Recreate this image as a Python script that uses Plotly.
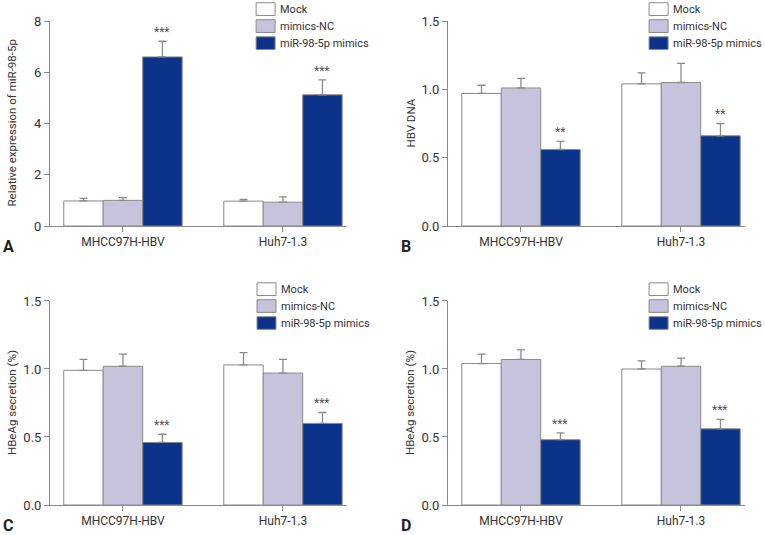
import plotly.graph_objects as go
from plotly.subplots import make_subplots

cells = ["MHCC97H-HBV", "Huh7-1.3"]
groups = ["Mock", "mimics-NC", "miR-98-5p mimics"]
colors = ["#ffffff", "#c6c4dd", "#0b338a"]

# panel A: relative expression of miR-98-5p
a_vals = [[0.98, 0.97], [1.00, 0.93], [6.60, 5.12]]
a_err = [[0.10, 0.07], [0.11, 0.21], [0.61, 0.58]]
a_stars = ["***", "***"]

# panel B: HBV DNA
b_vals = [[0.97, 1.04], [1.01, 1.05], [0.56, 0.66]]
b_err = [[0.06, 0.08], [0.07, 0.14], [0.06, 0.09]]
b_stars = ["**", "**"]

# panel C: HBeAg secretion
c_vals = [[0.99, 1.03], [1.02, 0.97], [0.46, 0.60]]
c_err = [[0.08, 0.09], [0.09, 0.10], [0.06, 0.08]]
c_stars = ["***", "***"]

# panel D: HBeAg secretion
d_vals = [[1.04, 1.00], [1.07, 1.02], [0.48, 0.56]]
d_err = [[0.07, 0.06], [0.07, 0.06], [0.05, 0.07]]
d_stars = ["***", "***"]

panels = [
    dict(vals=a_vals, err=a_err, stars=a_stars, title="Relative expression of miR-98-5p",
         rng=[0, 8], dtick=2, fmt="d", letter="A", legx=0.694),
    dict(vals=b_vals, err=b_err, stars=b_stars, title="HBV DNA",
         rng=[0, 1.5], dtick=0.5, fmt=".1f", letter="B", legx=0.677),
    dict(vals=c_vals, err=c_err, stars=c_stars, title="HBeAg secretion (%)",
         rng=[0, 1.5], dtick=0.5, fmt=".1f", letter="C", legx=0.697),
    dict(vals=d_vals, err=d_err, stars=d_stars, title="HBeAg secretion (%)",
         rng=[0, 1.5], dtick=0.5, fmt=".1f", letter="D", legx=0.677),
]

FONT = "Roboto, Arial"
GREY = "#8a8a8a"
BARGAP = 0.26
fig = make_subplots(rows=2, cols=2)
xs = list(range(len(cells)))

for p_i, p in enumerate(panels):
    row, col = p_i // 2 + 1, p_i % 2 + 1
    for g_i, g in enumerate(groups):
        fig.add_trace(go.Bar(x=xs, y=p["vals"][g_i], name=g, showlegend=False,
                             marker=dict(color=colors[g_i], line=dict(color=GREY, width=1)),
                             error_y=dict(type="data", symmetric=False, array=p["err"][g_i],
                                          arrayminus=[0] * len(cells), color=GREY,
                                          thickness=1.3, width=4)),
                      row=row, col=col)
    n = p_i + 1
    xa = "x" if n == 1 else f"x{n}"
    ya = "y" if n == 1 else f"y{n}"
    bw = (1 - BARGAP) / len(groups)
    span = p["rng"][1] - p["rng"][0]
    for c_i in xs:
        top = p["vals"][2][c_i] + p["err"][2][c_i]
        fig.add_annotation(x=c_i + bw, y=top + span * 0.045, xref=xa, yref=ya,
                           text=p["stars"][c_i], showarrow=False,
                           font=dict(size=12, color="#555555"))
    # legend drawn per panel
    for g_i, g in enumerate(groups):
        yc = 1.058 - g_i * 0.083
        fig.add_shape(type="rect", xref=f"{xa} domain", yref=f"{ya} domain",
                      x0=p["legx"], x1=p["legx"] + 0.064, y0=yc - 0.031, y1=yc + 0.031,
                      fillcolor=colors[g_i], line=dict(color=GREY, width=1))
        fig.add_annotation(x=p["legx"] + 0.074, y=yc, xref=f"{xa} domain", yref=f"{ya} domain",
                           text=g, showarrow=False, xanchor="left", yanchor="middle",
                           font=dict(size=11, color="#333333"))
    # y title
    fig.add_annotation(x=0, y=0.5, xref=f"{xa} domain", yref=f"{ya} domain", xshift=-38,
                       text=p["title"], textangle=-90, showarrow=False,
                       xanchor="center", yanchor="middle",
                       font=dict(size=11.5, color="#333333"))
    # panel letter
    fig.add_annotation(x=0, y=0, xref=f"{xa} domain", yref=f"{ya} domain",
                       xshift=-42, yshift=-20,
                       text=f"<b>{p['letter']}</b>", showarrow=False, xanchor="center",
                       yanchor="middle", font=dict(size=16, color="#222222"))
    fig.update_xaxes(range=[-0.456, 1.4], tickvals=xs, ticktext=cells, showline=True,
                     linecolor=GREY, linewidth=1, ticks="outside", ticklen=5,
                     tickcolor=GREY, showgrid=False, zeroline=False, automargin=False,
                     tickfont=dict(size=12, color="#333333"), row=row, col=col)
    fig.update_yaxes(range=p["rng"], dtick=p["dtick"], tickformat=p["fmt"], showline=True,
                     linecolor=GREY, linewidth=1, ticks="outside", ticklen=5,
                     tickcolor=GREY, showgrid=False, zeroline=False, automargin=False,
                     tickfont=dict(size=13, color="#333333"), row=row, col=col)

fig.update_layout(
    width=765, height=535, barmode="group", bargap=BARGAP, bargroupgap=0,
    margin=dict(l=50, r=20, t=21, b=30),
    paper_bgcolor="white", plot_bgcolor="white",
    font=dict(family=FONT, color="#333333"),
    xaxis=dict(domain=[0, 0.4273]), xaxis2=dict(domain=[0.5727, 1]),
    xaxis3=dict(domain=[0, 0.4273]), xaxis4=dict(domain=[0.5727, 1]),
    yaxis=dict(domain=[0.5764, 1]), yaxis2=dict(domain=[0.5764, 1]),
    yaxis3=dict(domain=[0, 0.4215]), yaxis4=dict(domain=[0, 0.4215]),
)

# drop the browser's default page margin so the figure sits at the window's corner
fig.write_html("out.html", config={"displayModeBar": False},
               post_script="document.body.style.margin='0';")
